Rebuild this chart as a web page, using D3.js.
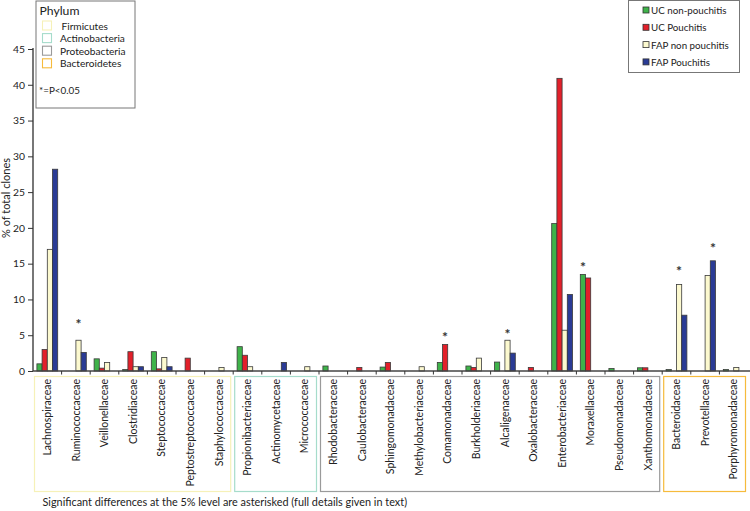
<!DOCTYPE html>
<html>
<head>
<meta charset="utf-8">
<script src="https://cdn.jsdelivr.net/npm/d3@7/dist/d3.min.js"></script>
<style>
  html, body { margin: 0; padding: 0; background: #fff; }
  svg { display: block; font-family: Lato, "Open Sans", sans-serif; }
</style>
</head>
<body>
<svg id="chart" width="750" height="511"></svg>
<script>
const categories = ["Lachnospiraceae","Ruminococcaceae","Veillonellaceae","Clostridiaceae","Steptococcaceae","Peptostreptococcaceae","Staphylococcaceae","Propionibacteriaceae","Actinomycetaceae","Micrococcaceae","Rhodobacteraceae","Caulobacteraceae","Sphingomonadaceae","Methylobacteriaceae","Comamonadaceae","Burkholderiaceae","Alcaligenaceae","Oxalobacteraceae","Enterobacteriaceae","Moraxellaceae","Pseudomonadaceae","Xanthomonadaceae","Bacteroidaceae","Prevotellaceae","Porphyromonadaceae"];
const seriesNames = ["UC non-pouchitis","UC Pouchitis","FAP non pouchitis","FAP Pouchitis"];
const ucNonPouchitis  = [1.0, 0, 1.7, 0.2, 2.7, 0, 0, 3.4, 0, 0, 0.7, 0, 0.55, 0, 1.2, 0.7, 1.25, 0, 20.6, 13.5, 0.35, 0.45, 0.2, 0, 0.2];
const ucPouchitis     = [3.0, 0, 0.4, 2.7, 0.3, 1.8, 0, 2.2, 0, 0, 0, 0.5, 1.2, 0, 3.7, 0.5, 0, 0.5, 40.9, 13.0, 0, 0.45, 0, 0, 0];
const fapNonPouchitis = [17.0, 4.3, 1.2, 0.6, 1.9, 0, 0.5, 0.6, 0, 0.6, 0, 0, 0, 0.6, 0, 1.8, 4.3, 0, 5.7, 0, 0, 0, 12.1, 13.35, 0.5];
const fapPouchitis    = [28.2, 2.6, 0, 0.6, 0.6, 0, 0, 0, 1.2, 0, 0, 0, 0, 0, 0, 0, 2.5, 0, 10.7, 0, 0, 0, 7.8, 15.4, 0];
const phyla = ["Firmicutes","Actinobacteria","Proteobacteria","Bacteroidetes"];
const phylumStart = [0, 7, 10, 22];
const phylumEnd   = [6, 9, 21, 24];
const significantCats = ["Ruminococcaceae","Comamonadaceae","Alcaligenaceae","Moraxellaceae","Bacteroidaceae","Prevotellaceae"];
const asteriskLevel   = [6.8, 5.1, 5.4, 14.8, 14.2, 17.4];
const yTicks = [0,5,10,15,20,25,30,35,40,45];

const seriesColors = ["#3fb34a","#e2202a","#fcf9cf","#2a3b95"];
const phylumColors = ["#f6f1b8","#a6dccb","#9a9a9a","#f6bb3c"];

const svg = d3.select("#chart");
const x0 = 33, x1 = 748, yTop = 49, yBase = 371;

// font size that makes a string reach a target width
function fit(str, target) {
  const t = svg.append("text").attr("font-size", 20).text(str);
  const w = t.node().getComputedTextLength();
  t.remove();
  return w > 0 ? 20 * target / w : 11;
}

const x = d3.scaleBand().domain(categories).range([x0, x1]).padding(0);
const xs = d3.scaleBand().domain(seriesNames).range([0, x.bandwidth()]).paddingInner(0).paddingOuter(0.75);
const y = d3.scaleLinear().domain([0, 45]).range([yBase, yTop]);

const seriesValues = [ucNonPouchitis, ucPouchitis, fapNonPouchitis, fapPouchitis];

// bars
const g = svg.append("g");
categories.forEach((c, i) => {
  seriesNames.forEach((s, j) => {
    const v = seriesValues[j][i];
    if (v <= 0) return;
    g.append("rect")
      .attr("x", x(c) + xs(s))
      .attr("y", y(v))
      .attr("width", xs.bandwidth())
      .attr("height", yBase - y(v))
      .attr("fill", seriesColors[j])
      .attr("stroke", "#3a3a3a")
      .attr("stroke-width", 0.8);
  });
});

// y axis
const tickFs = fit("45", 12);
const yAxis = d3.axisLeft(y).tickValues(yTicks).tickSize(5).tickPadding(3).tickFormat(d3.format("d"));
const ya = svg.append("g").attr("transform", `translate(${x0},0)`).call(yAxis);
ya.select(".domain").attr("stroke", "#555").attr("stroke-width", 1.6).attr("d", `M0,${yTop - 1}V${yBase}`);
ya.selectAll(".tick line").attr("stroke", "#333").attr("stroke-width", 1);
ya.selectAll(".tick text").attr("font-size", tickFs).attr("fill", "#222").style("font-family", "Lato, sans-serif");

// x axis
const xAxis = d3.axisBottom(x).tickSize(0).tickFormat("");
const xa = svg.append("g").attr("transform", `translate(0,${yBase})`).call(xAxis);
xa.select(".domain").attr("stroke", "#444").attr("stroke-width", 1.4).attr("d", `M${x0},0H750`);
xa.selectAll(".tick").remove();
categories.forEach((c, i) => {
  if (i === 0) return;
  xa.append("line").attr("x1", x(c)).attr("x2", x(c)).attr("y1", 0).attr("y2", 3.5)
    .attr("stroke", "#333").attr("stroke-width", 1);
});

// category labels
const catFs = (fit("Lachnospiraceae", 77) + fit("Peptostreptococcaceae", 107)) / 2;
svg.append("g").selectAll("text").data(categories).join("text")
  .attr("transform", d => `translate(${x(d) + x.bandwidth() / 2},379) rotate(-90)`)
  .attr("text-anchor", "end")
  .attr("dy", "0.36em")
  .attr("font-size", catFs)
  .attr("fill", "#222")
  .text(d => d);

// phylum boxes
phyla.forEach((p, k) => {
  const xa0 = x(categories[phylumStart[k]]) + 1.5;
  const xa1 = x(categories[phylumEnd[k]]) + x.bandwidth() - 2.5;
  svg.append("rect")
    .attr("x", xa0).attr("y", 376.5)
    .attr("width", xa1 - xa0).attr("height", 115)
    .attr("fill", "none").attr("stroke", phylumColors[k]).attr("stroke-width", 1.2);
});

// asterisks
significantCats.forEach((c, k) => {
  const i = categories.indexOf(c);
  let best = 0, bj = 0;
  seriesValues.forEach((arr, j) => { if (arr[i] > best) { best = arr[i]; bj = j; } });
  svg.append("text")
    .attr("x", x(c) + xs(seriesNames[bj]) + xs.bandwidth() / 2)
    .attr("y", y(asteriskLevel[k]) + 7)
    .attr("text-anchor", "middle")
    .attr("font-size", 14)
    .attr("font-weight", "bold")
    .attr("fill", "#333")
    .text("*");
});

// y axis title
svg.append("text")
  .attr("transform", `translate(10,198) rotate(-90)`)
  .attr("text-anchor", "middle")
  .attr("font-size", fit("% of total clones", 80))
  .attr("fill", "#222")
  .text("% of total clones");

// phylum legend
const lg = svg.append("g");
lg.append("rect").attr("x", 36).attr("y", 1).attr("width", 99).attr("height", 107)
  .attr("fill", "#fff").attr("stroke", "#777").attr("stroke-width", 1);
lg.append("text").attr("x", 39.5).attr("y", 14.5).attr("font-size", fit("Phylum", 40)).attr("fill", "#222").text("Phylum");
const legFs = fit("Actinobacteria", 65);
phyla.forEach((p, k) => {
  const yy = 21 + k * 12.6;
  lg.append("rect").attr("x", 42.5).attr("y", yy).attr("width", 9).attr("height", 9)
    .attr("fill", "#fff").attr("stroke", phylumColors[k]).attr("stroke-width", 1.1);
  lg.append("text").attr("x", k === 0 ? 61.5 : 60).attr("y", yy + 8.5)
    .attr("font-size", legFs).attr("fill", "#222").text(p);
});
lg.append("text").attr("x", 39).attr("y", 93.5).attr("font-size", fit("*=P<0.05", 41)).attr("fill", "#222").text("*=P<0.05");

// series legend
const sg = svg.append("g");
sg.append("rect").attr("x", 628.5).attr("y", 0.5).attr("width", 111).attr("height", 72)
  .attr("fill", "#fff").attr("stroke", "#777").attr("stroke-width", 1);
const serFs = fit("UC non-pouchitis", 75.5);
seriesNames.forEach((s, j) => {
  const cy = 10 + j * 17.3;
  sg.append("rect").attr("x", 643).attr("y", cy - 3).attr("width", 6).attr("height", 6)
    .attr("fill", seriesColors[j]).attr("stroke", "#333").attr("stroke-width", 0.8);
  sg.append("text").attr("x", 651).attr("y", cy + 4).attr("font-size", serFs).attr("fill", "#222").text(s);
});

// footnote
const foot = "Significant differences at the 5% level are asterisked (full details given in text)";
svg.append("text").attr("x", 42.5).attr("y", 506).attr("font-size", fit(foot, 365)).attr("fill", "#222")
  .text(foot);
</script>
</body>
</html>
